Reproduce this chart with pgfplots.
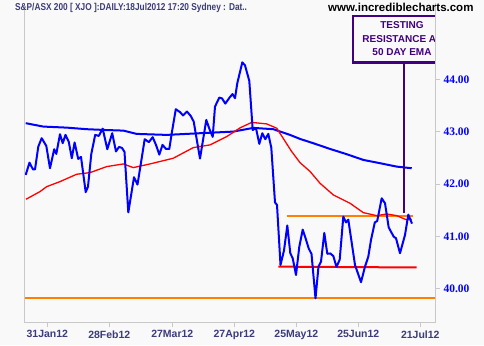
\documentclass[border=0pt]{standalone}
\usepackage{fontspec}
\setmainfont{Liberation Sans}
\newfontfamily\serifb{Liberation Serif}
\usepackage{pgfplots}
\pgfplotsset{compat=1.18}
\definecolor{bg}{HTML}{F9F9F9}
\definecolor{framegray}{HTML}{C8C8C8}
\definecolor{titlecol}{HTML}{3C3C7C}
\definecolor{indigoc}{HTML}{400080}
\definecolor{orangec}{HTML}{FF8000}
\definecolor{priceblue}{HTML}{0000FF}
\begin{document}
\begin{tikzpicture}
\path[use as bounding box, fill=bg] (0,0) rectangle (484pt,345pt);
\begin{axis}[
 at={(24pt,23pt)}, anchor=south west,
 scale only axis, width=411pt, height=319pt,
 xmin=0, xmax=411, ymin=39.363, ymax=45.46,
 axis line style={draw=none},
 xtick={23.3,85.3,148.3,210.3,272.3,334.3,396.3},
 xticklabels={31Jan12,28Feb12,27Mar12,27Apr12,25May12,25Jun12,21Jul12},
 ytick={40,41,42,43,44},
 yticklabels={40.00,41.00,42.00,43.00,44.00},
 xtick pos=left, ytick pos=right, yticklabel pos=right,
 tick align=outside, major tick length=5pt,
 tick style={draw=framegray, line width=0.8pt},
 xticklabel style={font=\bfseries\fontsize{10.5}{12}\selectfont, text=titlecol},
 yticklabel style={font=\serifb\bfseries\fontsize{11.5}{13}\selectfont, text=priceblue},
 clip=true,
]
% horizontal trend lines
\addplot[orangec, line width=2pt] coordinates {(0,39.816) (411,39.816)};
\addplot[orangec, line width=2pt] coordinates {(262.7,41.396) (389.3,41.396)};
\addplot[red, line width=2pt] coordinates {(254.3,40.421) (392.7,40.405)};
% long moving average
\addplot[priceblue, line width=2pt] coordinates {
(1.7,43.163) (19.3,43.098) (42.7,43.078) (62.7,43.048) (79.3,43.034) (99.3,43.021)
(112.7,42.958) (142.7,42.939) (176,42.971) (209.3,43.002) (229.3,43.073) (249.3,43.048)
(266,42.939) (276,42.862) (289.3,42.780) (306,42.671) (322.7,42.570) (339.3,42.461)
(356,42.398) (372.7,42.333) (387.7,42.302)};
% 50 day EMA
\addplot[red, line width=1.3pt] coordinates {
(2,41.709) (16,41.855) (22.7,41.950) (36,42.046) (52.7,42.187) (66,42.218) (82.7,42.333)
(99.3,42.384) (109.3,42.314) (126,42.384) (149.3,42.493) (169.3,42.696) (186,42.748)
(202.7,42.906) (216,43.073) (227.7,43.178) (242.7,43.149) (252.7,43.067) (267.7,42.620)
(276,42.409) (286,42.241) (296,42.015) (309.3,41.792) (326,41.633) (339.3,41.453)
(352.7,41.396) (362.7,41.428) (372.7,41.396) (382.7,41.314) (387.7,41.327)};
% price
\addplot[priceblue, line width=2pt, line join=round] coordinates {
(1.7,42.174) (5.5,42.409) (9,42.279) (11,42.279) (14.3,42.715) (17.7,42.876) (22.3,42.728)
(26,42.302) (30.2,42.665) (32.3,42.576) (36,42.952) (38.7,42.780) (41.5,42.939) (44.8,42.805)
(47.8,42.493) (50.6,42.795) (54.2,42.480) (57,42.518) (61.7,41.845) (64,41.950) (67.3,42.576)
(71.2,42.939) (74.8,42.920) (78.7,43.059) (83.3,42.665) (88.2,42.971) (92,42.623) (95,42.709)
(98,42.690) (100.5,42.614) (104.3,41.457) (110,42.130) (113.5,41.989) (117.7,42.493)
(120.7,42.857) (124.8,42.801) (128.7,42.895) (132,42.748) (135.3,42.562) (138.5,42.748)
(142,42.671) (145.3,42.671) (148,43.002) (151.8,43.430) (156,43.375) (159,43.312)
(163,43.384) (166.7,43.302) (169.7,43.193) (176,42.486) (182.3,43.226) (185.3,43.057)
(188.7,42.901) (191,43.480) (195.3,43.652) (198,43.637) (201.3,43.537) (205.7,43.656)
(208.5,43.719) (211,43.641) (213.3,43.927) (218.3,44.325) (221,44.268) (225.3,43.971)
(228.7,43.034) (232,43.067) (235.3,42.767) (238.3,42.971) (241.3,42.857) (244.3,42.958)
(247.3,42.694) (251,41.648) (253,41.600) (256.5,40.453) (260,40.730) (263.3,41.208)
(266.3,40.677) (268.7,40.581) (272,40.262) (275.3,40.803) (278.7,41.128) (281.8,40.950)
(284.7,40.769) (287.5,40.663) (291.5,39.816) (294.5,40.424) (297,40.516) (300.3,41.065)
(303.3,40.667) (306.3,40.673) (309.3,40.625) (312.5,40.415) (315.7,40.554) (319.3,41.377)
(322,41.266) (324.3,41.319) (331,40.453) (337,40.124) (341,40.421) (344.3,40.612)
(347,40.931) (350.8,41.266) (353.2,41.294) (357.7,41.728) (361,41.633) (364.7,41.170)
(369.7,40.994) (372,40.964) (376,40.677) (381,41.027) (384.3,41.415) (388,41.243)};
\end{axis}
% annotation (clipped to the plot frame)
\begin{scope}[x=1pt,y=-1pt,shift={(0pt,345pt)}]
\begin{scope}
\clip (24,3) rectangle (435,322);
\draw[indigoc, line width=2.6pt] (404,62.7) -- (404,212.7);
\draw[indigoc, line width=2.4pt, fill=bg] (352.7,16) rectangle (452,62.7);
\node[text=indigoc, font=\bfseries\fontsize{10}{12}\selectfont] at (402,25) {TESTING};
\node[text=indigoc, font=\bfseries\fontsize{10}{12}\selectfont] at (402,38.7) {RESISTANCE AT};
\node[text=indigoc, font=\bfseries\fontsize{10}{12}\selectfont] at (402,52.3) {50 DAY EMA};
\end{scope}
% plot frame (left, bottom, right)
\draw[framegray, line width=0.8pt] (24,3) -- (24,322) -- (435,322) -- (435,3);
\end{scope}
\node[anchor=west, inner sep=0pt, text=titlecol, font=\bfseries\fontsize{10}{12}\selectfont, xscale=0.83, transform shape] at (15pt,337.5pt) {S\&P/ASX 200 [ XJO ]:DAILY:18Jul2012 17:20 Sydney : Dat..};
\node[anchor=west, inner sep=0pt, text=black, font=\bfseries\fontsize{11.5}{13}\selectfont] at (328pt,337.5pt) {www.incrediblecharts.com};
\end{tikzpicture}
\end{document}
